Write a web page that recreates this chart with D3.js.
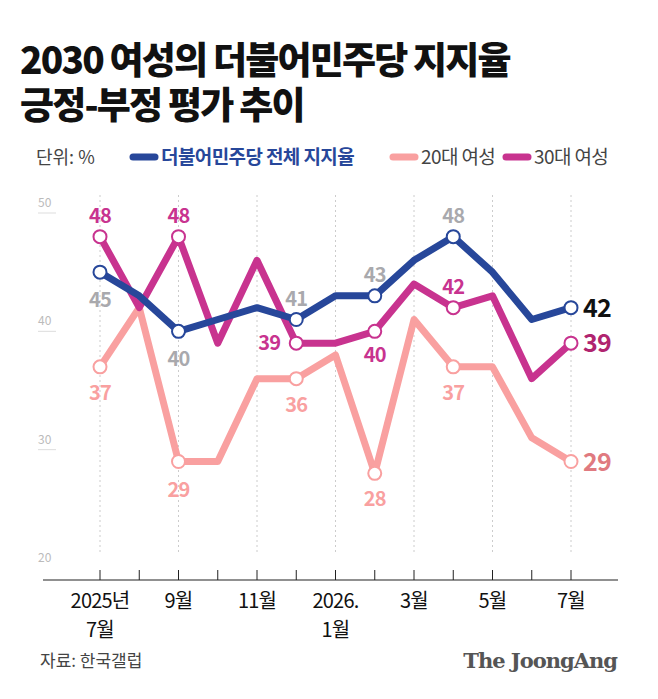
<!DOCTYPE html>
<html><head><meta charset="utf-8">
<script src="https://cdn.jsdelivr.net/npm/d3@7"></script>
<style>body{margin:0;background:#fff}svg{font-family:"Noto Sans CJK KR","Noto Sans",sans-serif}</style>
</head><body><svg width="658" height="699"></svg>
<script>
var months = ["2025-07","2025-08","2025-09","2025-10","2025-11","2025-12","2026-01","2026-02","2026-03","2026-04","2026-05","2026-06","2026-07"];
var total = [45,43,40,41,42,41,43,43,46,48,45,41,42];
var women20 = [37,42,29,29,36,36,38,28,41,37,37,31,29];
var women30 = [48,42,48,39,46,39,39,40,44,42,43,36,39];
var tickIdx = [0,2,4,6,8,10,12];
var tickLabels = [["2025년","7월"],["9월"],["11월"],["2026.","1월"],["3월"],["5월"],["7월"]];
var yTicks = [20,30,40,50];
var marked = [0,2,5,7,9];

var svg = d3.select('svg');
var x = d3.scalePoint().domain(d3.range(months.length)).range([100, 571]);
var y = d3.scaleLinear().domain([20, 50]).range([568, 213]);

// title
svg.append('text').attr('x', 20).attr('y', 74).text('2030 여성의 더불어민주당 지지율')
    .attr('font-size', 37).attr('font-weight', 900).attr('letter-spacing', -1.8).attr('fill', '#111');
svg.append('text').attr('x', 20).attr('y', 119).text('긍정-부정 평가 추이')
    .attr('font-size', 37).attr('font-weight', 900).attr('letter-spacing', -1.8).attr('fill', '#111');

// legend
svg.append('text').attr('x', 36).attr('y', 164).text('단위: %').attr('font-size', 18).attr('fill', '#444');
var legend = [
    {x: 133, label: '더불어민주당 전체 지지율', color: '#27479a', bold: true},
    {x: 393, label: '20대 여성', color: '#f9a0a0', bold: false},
    {x: 506, label: '30대 여성', color: '#c8338f', bold: false}
];
legend.forEach(function (d) {
    svg.append('line').attr('x1', d.x).attr('x2', d.x + 22).attr('y1', 157).attr('y2', 157)
        .attr('stroke', d.color).attr('stroke-width', 7).attr('stroke-linecap', 'round');
    svg.append('text').attr('x', d.x + 28).attr('y', 164).text(d.label)
        .attr('font-size', 19).attr('font-weight', d.bold ? 700 : 400)
        .attr('fill', d.bold ? '#27479a' : '#444').attr('letter-spacing', -0.6);
});

// y labels
yTicks.forEach(function (v) {
    svg.append('text').attr('x', 38).attr('y', y(v) - 6).text(v)
        .attr('font-size', 12).attr('fill', '#bbb');
    if (v > 20) svg.append('line').attr('x1', 38).attr('x2', 56).attr('y1', y(v)).attr('y2', y(v))
        .attr('stroke', '#ddd');
});

// vertical dotted lines
tickIdx.forEach(function (i) {
    svg.append('line').attr('x1', x(i)).attr('x2', x(i)).attr('y1', 195).attr('y2', 552)
        .attr('stroke', '#ccc').attr('stroke-dasharray', '2,3');
});

// x axis
svg.append('line').attr('x1', 43).attr('x2', 618).attr('y1', 580).attr('y2', 580).attr('stroke', '#222').attr('stroke-width', 1.2);
d3.range(months.length).forEach(function (i) {
    svg.append('line').attr('x1', x(i)).attr('x2', x(i)).attr('y1', 570).attr('y2', 580).attr('stroke', '#222');
});
tickIdx.forEach(function (i, k) {
    tickLabels[k].forEach(function (t, j) {
        svg.append('text').attr('x', x(i)).attr('y', 608 + j * 29).text(t)
            .attr('text-anchor', 'middle').attr('font-size', 20).attr('fill', '#111').attr('letter-spacing', -0.8);
    });
});

var line = d3.line().x(function (d, i) { return x(i); }).y(function (d) { return y(d); });
var series = [
    {data: women20, color: '#f9a0a0'},
    {data: women30, color: '#c8338f'},
    {data: total, color: '#27479a'}
];
series.forEach(function (s) {
    svg.append('path').datum(s.data).attr('d', line).attr('fill', 'none')
        .attr('stroke', s.color).attr('stroke-width', 7).attr('stroke-linejoin', 'round');
});
series.forEach(function (s) {
    marked.concat([12]).forEach(function (i) {
        svg.append('circle').attr('cx', x(i)).attr('cy', y(s.data[i])).attr('r', 6.5)
            .attr('fill', '#fff').attr('stroke', s.color).attr('stroke-width', 2);
    });
});

// value labels: [series, index, dx, dy, color]
var labels = [
    [total, 0, 0, 35, '#a9a9ad'], [women30, 0, 0, -14, '#c8338f'], [women20, 0, 0, 33, '#f9a0a0'],
    [total, 2, 0, 35, '#a9a9ad'], [women30, 2, 0, -14, '#c8338f'], [women20, 2, 0, 35, '#f9a0a0'],
    [total, 5, 0, -14, '#a9a9ad'], [women30, 5, -27, 7, '#c8338f'], [women20, 5, 0, 33, '#f9a0a0'],
    [total, 7, 0, -14, '#a9a9ad'], [women30, 7, 0, 31, '#c8338f'], [women20, 7, 0, 33, '#f9a0a0'],
    [total, 9, 0, -14, '#a9a9ad'], [women30, 9, 0, -14, '#c8338f'], [women20, 9, 0, 33, '#f9a0a0']
];
labels.forEach(function (l) {
    svg.append('text').attr('x', x(l[1]) + l[2]).attr('y', y(l[0][l[1]]) + l[3]).text(l[0][l[1]])
        .attr('text-anchor', 'middle').attr('font-size', 20).attr('font-weight', 700)
        .attr('letter-spacing', -0.8).attr('fill', l[4]);
});
[[total, '#111'], [women30, '#b0246f'], [women20, '#e07a80']].forEach(function (l) {
    svg.append('text').attr('x', x(12) + 12).attr('y', y(l[0][12]) + 9).text(l[0][12])
        .attr('font-size', 25).attr('font-weight', 700).attr('letter-spacing', -0.8).attr('fill', l[1]);
});

// footer
svg.append('text').attr('x', 40).attr('y', 667).text('자료: 한국갤럽').attr('font-size', 17).attr('fill', '#444');
svg.append('text').attr('x', 617).attr('y', 668).text('The JoongAng').attr('text-anchor', 'end')
    .attr('font-family', '"DejaVu Serif","Liberation Serif",serif').attr('font-weight', 700)
    .attr('font-size', 21).attr('fill', '#555').attr('letter-spacing', -1);
</script></body></html>
